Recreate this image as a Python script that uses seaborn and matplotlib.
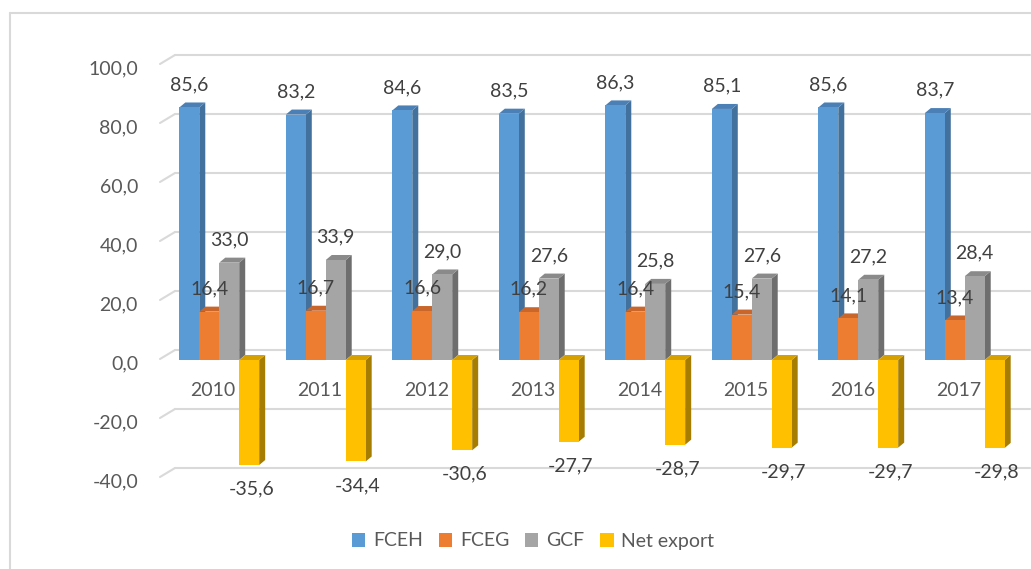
import numpy as np
import pandas as pd
import matplotlib
matplotlib.use("Agg")
import matplotlib.pyplot as plt
import seaborn as sns
from matplotlib.patches import Polygon, Patch
from matplotlib.lines import Line2D

# ---- data -------------------------------------------------------------
years = ["2010", "2011", "2012", "2013", "2014", "2015", "2016", "2017"]
fceh = [85.6, 83.2, 84.6, 83.5, 86.3, 85.1, 85.6, 83.7]
fceg = [16.4, 16.7, 16.6, 16.2, 16.4, 15.4, 14.1, 13.4]
gcf = [33.0, 33.9, 29.0, 27.6, 25.8, 27.6, 27.2, 28.4]
net_export = [-35.6, -34.4, -30.6, -27.7, -28.7, -29.7, -29.7, -29.8]
series_names = ["FCEH", "FCEG", "GCF", "Net export"]
y_ticks = [-40, -20, 0, 20, 40, 60, 80, 100]

# ---- styling ----------------------------------------------------------
front_colors = ["#5b9bd5", "#ed7d31", "#a5a5a5", "#ffc000"]
side_colors = ["#41719c", "#b05c22", "#6e6e6e", "#a67d00"]
top_colors = ["#4b80b6", "#c9662b", "#8a8a8a", "#d6a100"]
grid_color = "#d9d9d9"
label_color = "#404040"
tick_color = "#595959"

df = pd.DataFrame({
    "Year": years * len(series_names),
    "Series": np.repeat(series_names, len(years)),
    "Value": fceh + fceg + gcf + net_export,
})

W, H, DPI = 1031, 569, 100
sns.set_theme(style="white")
plt.rcParams["font.family"] = ["Lato", "DejaVu Sans"]
FS = 14

fig = plt.figure(figsize=(W / DPI, H / DPI), dpi=DPI)
fig.patch.set_facecolor("white")

# axes placed in pixel terms
ax_left, ax_right, ax_top, ax_bottom = 166, 1018, 65, 478
ax = fig.add_axes([ax_left / W, 1 - ax_bottom / H,
                   (ax_right - ax_left) / W, (ax_bottom - ax_top) / H])

sns.barplot(data=df, x="Year", y="Value", hue="Series", order=years,
            hue_order=series_names, palette=front_colors, saturation=1,
            width=0.75, errorbar=None, linewidth=0, legend=False, ax=ax)

ax.set_xlim(-0.5, 7.5)
ax.set_ylim(-40, 100)
for s in ax.spines.values():
    s.set_visible(False)
ax.set_xticks([])
ax.set_yticks([])
ax.set_xlabel("")
ax.set_ylabel("")
ax.set_facecolor("none")

# pixel size of one data unit
p0 = ax.transData.transform((0, 0))
p1 = ax.transData.transform((1, 1))
sx, sy = p1[0] - p0[0], p1[1] - p0[1]

def px_to_xdata(px):
    return -0.5 + (px - ax_left) / sx

# back-wall gridlines with a short slanted stroke at the front
wall_dy = 10 / sy
for t in y_ticks:
    ax.add_line(Line2D([px_to_xdata(175), px_to_xdata(1030)],
                       [t + wall_dy, t + wall_dy], color=grid_color,
                       lw=1.5, zorder=0.5, clip_on=False))
    ax.add_line(Line2D([px_to_xdata(160), px_to_xdata(175)],
                       [t + 1 / sy, t + wall_dy], color=grid_color,
                       lw=1.5, zorder=0.5, clip_on=False))
    ax.annotate(f"{t:.1f}".replace(".", ","), xy=(0, t),
                xycoords=("axes fraction", "data"),
                xytext=(-28, -4), textcoords="offset pixels",
                ha="right", va="center", fontsize=FS, color=tick_color)

# extruded faces for each bar
dx_d, dy_d = 6 / sx, 5 / sy
for k, cont in enumerate(ax.containers):
    for bar in cont:
        x0 = bar.get_x()
        x1 = x0 + bar.get_width()
        y_a = bar.get_y()
        y_b = y_a + bar.get_height()
        top, bot = max(y_a, y_b), min(y_a, y_b)
        bar.set_zorder(3 + 2 * k + 1)
        side = Polygon([(x1, bot), (x1, top), (x1 + dx_d, top + dy_d),
                        (x1 + dx_d, bot + dy_d)], closed=True,
                       facecolor=side_colors[k], edgecolor="none",
                       zorder=3 + 2 * k, clip_on=False)
        cap = Polygon([(x0, top), (x1, top), (x1 + dx_d, top + dy_d),
                       (x0 + dx_d, top + dy_d)], closed=True,
                      facecolor=top_colors[k], edgecolor="none",
                      zorder=3 + 2 * k, clip_on=False)
        ax.add_patch(side)
        ax.add_patch(cap)

        # value label
        val = bar.get_height()
        xc = x0 + bar.get_width() / 2
        if val >= 0:
            ax.annotate(f"{val:.1f}".replace(".", ","), xy=(xc, top),
                        xytext=(0, 23), textcoords="offset pixels",
                        ha="center", va="center", fontsize=FS,
                        color=label_color, zorder=20)
        else:
            ax.annotate(f"{val:.1f}".replace(".", ","), xy=(xc, bot),
                        xytext=(2, -24), textcoords="offset pixels",
                        ha="center", va="center", fontsize=FS,
                        color=label_color, zorder=20)

# category labels sitting just under the zero line
for i, yr in enumerate(years):
    ax.annotate(yr, xy=(i, 0), xytext=(-6, -31), textcoords="offset pixels",
                ha="center", va="center", fontsize=FS, color=tick_color,
                zorder=1)

# chart-area frame (top and left edges)
fig.add_artist(Line2D([10 / W, 10 / W], [0, 1 - 13 / H],
                      transform=fig.transFigure, color=grid_color, lw=1.5))
fig.add_artist(Line2D([10 / W, 1], [1 - 13 / H, 1 - 13 / H],
                      transform=fig.transFigure, color=grid_color, lw=1.5))

# legend
handles = [Patch(facecolor=c, edgecolor="none") for c in front_colors]
fig.legend(handles, series_names, loc="center",
           bbox_to_anchor=(533 / W, 1 - 541 / H), ncol=4, frameon=False,
           handlelength=0.7, handleheight=0.7, handletextpad=0.4,
           columnspacing=0.8, fontsize=FS, labelcolor=tick_color)

fig.savefig("out.png", dpi=DPI, facecolor="white")
